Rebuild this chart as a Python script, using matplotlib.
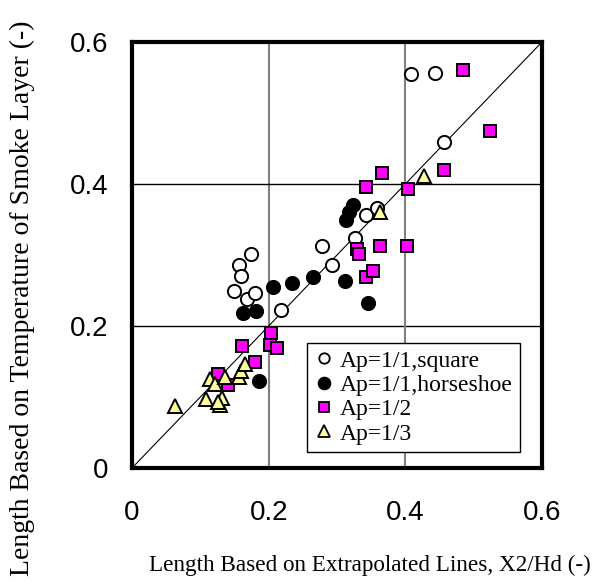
import matplotlib
matplotlib.use("Agg")
import matplotlib.pyplot as plt
from matplotlib.lines import Line2D

# Ap = 1/1, square plan
sq_x = [0.149, 0.156, 0.160, 0.169, 0.174, 0.180, 0.218, 0.278, 0.292,
        0.326, 0.342, 0.358, 0.409, 0.443, 0.456]
sq_y = [0.250, 0.286, 0.271, 0.238, 0.301, 0.247, 0.222, 0.313, 0.286,
        0.324, 0.357, 0.366, 0.555, 0.557, 0.459]

# Ap = 1/1, horseshoe plan
hs_x = [0.163, 0.182, 0.207, 0.234, 0.265, 0.312, 0.346, 0.313, 0.318,
        0.324, 0.186]
hs_y = [0.219, 0.221, 0.255, 0.260, 0.269, 0.264, 0.233, 0.350, 0.360,
        0.371, 0.122]

# Ap = 1/2
h2_x = [0.126, 0.141, 0.1605, 0.180, 0.203, 0.202, 0.212, 0.329, 0.332,
        0.343, 0.352, 0.363, 0.402, 0.343, 0.366, 0.404, 0.457, 0.524, 0.484]
h2_y = [0.133, 0.117, 0.172, 0.150, 0.190, 0.173, 0.169, 0.308, 0.301,
        0.269, 0.277, 0.313, 0.313, 0.396, 0.416, 0.393, 0.420, 0.475, 0.561]

# Ap = 1/3
h3_x = [0.063, 0.108, 0.114, 0.121, 0.129, 0.132, 0.126, 0.136, 0.156,
        0.160, 0.165, 0.363, 0.428]
h3_y = [0.087, 0.097, 0.126, 0.119, 0.089, 0.098, 0.093, 0.128, 0.128,
        0.137, 0.146, 0.361, 0.411]

ticks = [0, 0.2, 0.4, 0.6]
tick_labels = ["0", "0.2", "0.4", "0.6"]

fig = plt.figure(figsize=(6.02, 5.84), dpi=100)
ax = fig.add_axes([132 / 602, 1 - 468 / 584, 410 / 602, 426 / 584])
ax.set_xlim(0, 0.6)
ax.set_ylim(0, 0.6)

# grid: grey verticals, black horizontals
for v in [0.2, 0.4]:
    ax.axvline(v, color="#808080", lw=1.5, zorder=1)
    ax.axhline(v, color="black", lw=1.0, zorder=1)

# 1:1 reference line
ax.plot([0, 0.6], [0, 0.6], color="black", lw=0.8, zorder=2)

ms = 9.5
ax.plot(sq_x, sq_y, ls="none", marker="o", ms=ms, mfc="white", mec="black",
        mew=1.4, zorder=3)
ax.plot(hs_x, hs_y, ls="none", marker="o", ms=ms, mfc="black", mec="black",
        mew=1.4, zorder=4)
ax.plot(h2_x, h2_y, ls="none", marker="s", ms=ms - 0.5, mfc="#ff00ff",
        mec="black", mew=1.4, zorder=5)
ax.plot(h3_x, h3_y, ls="none", marker="^", ms=ms + 0.5, mfc="#ffff99",
        mec="black", mew=1.4, zorder=6)

ax.set_xticks(ticks)
ax.set_xticklabels(tick_labels)
ax.set_yticks(ticks)
ax.set_yticklabels(tick_labels)
ax.tick_params(length=0, labelsize=20)
ax.tick_params(axis="x", pad=23)
ax.tick_params(axis="y", pad=17)
for lab in ax.get_xticklabels() + ax.get_yticklabels():
    lab.set_family("Liberation Sans")

for s in ax.spines.values():
    s.set_linewidth(3)
    s.set_color("black")
    s.set_zorder(10)

serif = "Liberation Serif"
fig.text(370 / 602, 1 - 565 / 584,
         "Length Based on Extrapolated Lines, X2/Hd (-)",
         ha="center", va="center", fontsize=16.7, family=serif)
fig.text(22 / 602, 1 - 298 / 584,
         "Length Based on Temperature of Smoke Layer (-)",
         ha="center", va="center", rotation=90, fontsize=20, family=serif)

handles = [
    Line2D([], [], ls="none", marker="o", ms=7.5, mfc="white", mec="black", mew=1.3),
    Line2D([], [], ls="none", marker="o", ms=8.5, mfc="black", mec="black", mew=1.3),
    Line2D([], [], ls="none", marker="s", ms=7.5, mfc="#ff00ff", mec="black", mew=1.3),
    Line2D([], [], ls="none", marker="^", ms=8.5, mfc="#ffff99", mec="black", mew=1.3),
]
labels = ["Ap=1/1,square", "Ap=1/1,horseshoe", "Ap=1/2", "Ap=1/3"]
leg = ax.legend(handles, labels, loc="upper left",
                bbox_to_anchor=((307 - 132) / 410, 1 - (343 - 42) / 426),
                prop={"family": serif, "size": 17}, frameon=True,
                fancybox=False, edgecolor="black", framealpha=1,
                borderpad=0.3, labelspacing=0.12, handlelength=0.8,
                handletextpad=0.3, borderaxespad=0)
leg.get_frame().set_linewidth(1.0)
leg.set_zorder(11)

fig.savefig("out.png", dpi=100)
